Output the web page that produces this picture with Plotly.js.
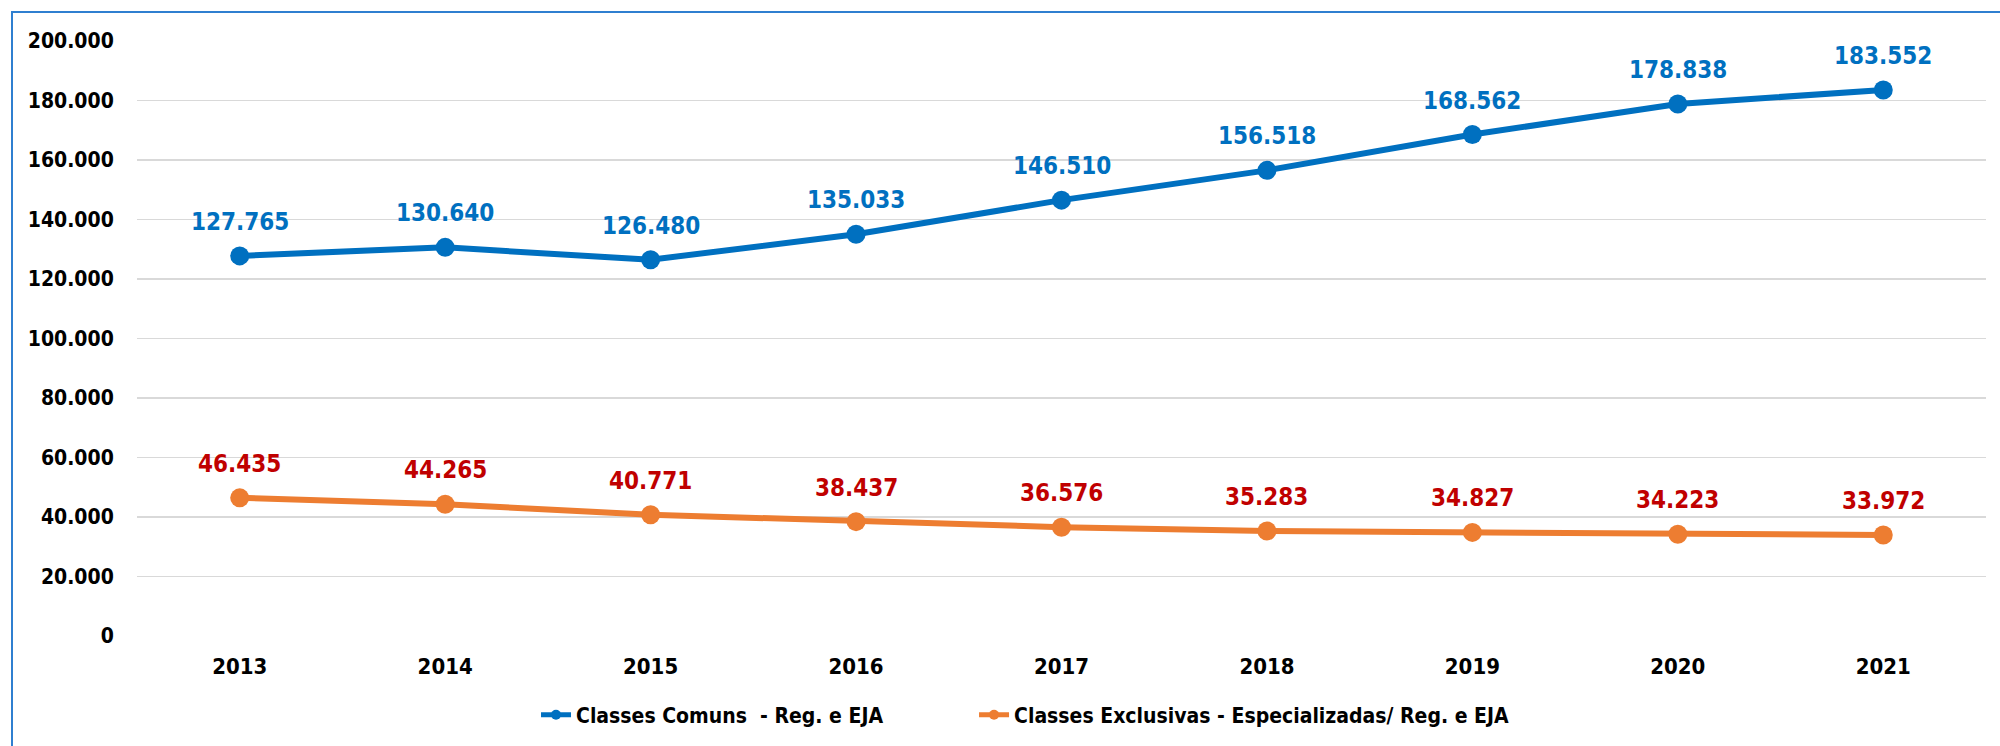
<!DOCTYPE html>
<html>
<head>
<meta charset="utf-8">
<script src="https://cdn.plot.ly/plotly-3.0.1.min.js"></script>
<style>
  html, body { margin: 0; padding: 0; background: #ffffff; overflow: hidden; }
  #wrap { position: relative; width: 2000px; height: 746px; }
  #chart { position: absolute; left: 0; top: 0; width: 2000px; height: 746px; }
  #frame { position: absolute; left: 11px; top: 11px; width: 2100px; height: 800px;
           border-left: 2px solid #2F7FD0; border-top: 2px solid #2F7FD0; pointer-events: none; }
</style>
</head>
<body>
<div id="wrap">
  <div id="chart"></div>
  <div id="frame"></div>
</div>
<script>
const years = [2013, 2014, 2015, 2016, 2017, 2018, 2019, 2020, 2021];
const classesComuns = [127765, 130640, 126480, 135033, 146510, 156518, 168562, 178838, 183552];
const classesExclusivas = [46435, 44265, 40771, 38437, 36576, 35283, 34827, 34223, 33972];
const seriesNames = ['Classes Comuns  - Reg. e EJA', 'Classes Exclusivas - Especializadas/ Reg. e EJA'];
const yTickVals = [0, 20000, 40000, 60000, 80000, 100000, 120000, 140000, 160000, 180000, 200000];

const BLUE = '#0070C0';
const ORANGE = '#ED7D31';
const RED = '#C00000';
const FONT = 'DejaVu Sans Condensed, DejaVu Sans, Tahoma, sans-serif';

function fmt(v) {
  return String(v).replace(/\B(?=(\d{3})+(?!\d))/g, '.');
}

const nulls = years.map(() => null);

const traces = [
  { x: years, y: classesComuns, type: 'scatter', mode: 'lines+markers', showlegend: false,
    line: { color: BLUE, width: 6 }, marker: { color: BLUE, size: 19 }, hoverinfo: 'skip' },
  { x: years, y: classesExclusivas, type: 'scatter', mode: 'lines+markers', showlegend: false,
    line: { color: ORANGE, width: 6 }, marker: { color: ORANGE, size: 19 }, hoverinfo: 'skip' },
  { x: years, y: nulls, type: 'scatter', mode: 'lines+markers', name: seriesNames[0], legend: 'legend',
    line: { color: BLUE, width: 5 }, marker: { color: BLUE, size: 10 } },
  { x: years, y: nulls, type: 'scatter', mode: 'lines+markers', name: seriesNames[1], legend: 'legend2',
    line: { color: ORANGE, width: 5 }, marker: { color: ORANGE, size: 10 } }
];

const annotations = [];
years.forEach((yr, i) => {
  annotations.push({ x: yr, y: classesComuns[i], xref: 'x', yref: 'y', text: fmt(classesComuns[i]),
    showarrow: false, yshift: 34, font: { family: FONT, size: 24, color: BLUE, weight: 'bold' } });
  annotations.push({ x: yr, y: classesExclusivas[i], xref: 'x', yref: 'y', text: fmt(classesExclusivas[i]),
    showarrow: false, yshift: 34, font: { family: FONT, size: 24, color: RED, weight: 'bold' } });
});

const legendBase = {
  orientation: 'h', xanchor: 'left', y: -0.131, yanchor: 'middle',
  font: { family: FONT, size: 21, color: '#000000', weight: 'bold' },
  bgcolor: 'rgba(0,0,0,0)'
};

const layout = {
  width: 2000, height: 746,
  margin: { l: 137, r: 14, t: 41, b: 109, pad: 0 },
  paper_bgcolor: '#ffffff', plot_bgcolor: '#ffffff',
  separators: ',.',
  font: { family: FONT, color: '#000000' },
  xaxis: {
    type: 'linear', range: [2012.5, 2021.5], tickvals: years, ticktext: years.map(String),
    showgrid: false, zeroline: false, showline: false,
    ticks: 'outside', ticklen: 11, tickcolor: 'rgba(0,0,0,0)',
    tickfont: { family: FONT, size: 22, color: '#000000', weight: 'bold' }
  },
  yaxis: {
    range: [0, 200000], tickvals: yTickVals, tickformat: ',d',
    showgrid: true, gridcolor: '#D9D9D9', gridwidth: 1.5,
    zeroline: false, showline: false,
    ticks: 'outside', ticklen: 18, tickcolor: 'rgba(0,0,0,0)',
    tickfont: { family: FONT, size: 21, color: '#000000', weight: 'bold' }
  },
  legend: Object.assign({}, legendBase, { x: 0.2158 }),
  legend2: Object.assign({}, legendBase, { x: 0.4527 }),
  annotations: annotations,
  showlegend: true
};

Plotly.newPlot('chart', traces, layout, { displayModeBar: false, staticPlot: true });
</script>
</body>
</html>
